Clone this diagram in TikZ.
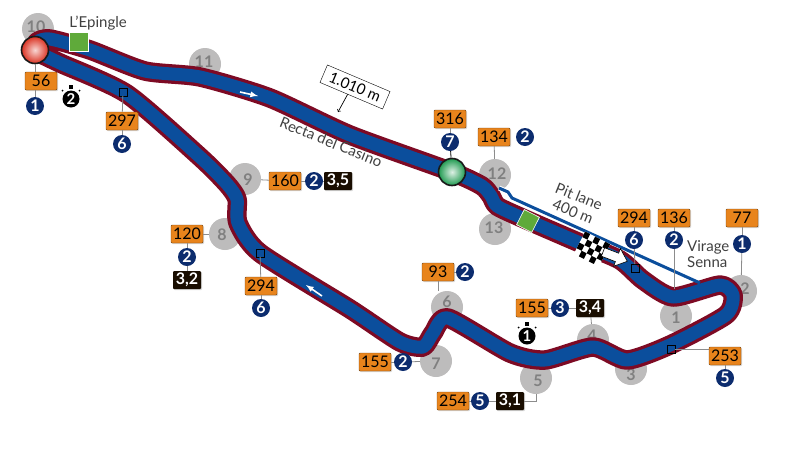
\documentclass[tikz,border=0pt]{standalone}
\usepackage{fontspec}
\usepackage[]{xcolor}
\setmainfont{Lato}
\usetikzlibrary{shadows}

\definecolor{trackred}{HTML}{7D0A24}
\definecolor{trackblue}{HTML}{0B4E9C}
\definecolor{gearblue}{HTML}{0C2C6E}
\definecolor{speedorange}{HTML}{E8841C}
\definecolor{turngray}{HTML}{BDBCBC}
\definecolor{kerbgreen}{HTML}{5FAA3A}
\definecolor{ballred}{HTML}{DA3222}
\definecolor{ballgreen}{HTML}{1F9A50}

\newcommand{\trackpath}{plot[smooth, tension=0.4] coordinates {(37,52) (60,63) (127,94) (200,157) (227,184) (237,199) (238,223) (260,253) (350,309) (400,342) (423,347) (433,333) (448,318) (510,353) (545,360) (593,347) (627,360) (670,345) (726,315) (733,295) (720,285) (673,297) (643,280) (620,260) (580,243) (520,217) (497,206) (491,196) (482,186) (452,172) (350,135) (270,98) (200,77) (145,71) (90,50) (50,39) (37,42) (37,52)}}

\begin{document}
\begin{tikzpicture}[
            x=1pt, y=-1pt,
            node distance=23pt,
            turn/.style={circle, fill=turngray, minimum size=32pt, inner sep=0pt},
            turnnum/.style={text=black!50, inner sep=0pt, font=\fontsize{16}{16}\bfseries\selectfont},
            speed/.style={rectangle, draw=black!50!speedorange, fill=speedorange, rounded corners=1pt, minimum width=32pt, minimum height=18pt, inner sep=0pt, font=\fontsize{16}{16}\selectfont, drop shadow={shadow xshift=1pt, shadow yshift=-1pt, opacity=.3}},
            gear/.style={circle, fill=gearblue, text=white, minimum size=18pt, inner sep=0pt, font=\fontsize{16}{16}\bfseries\selectfont},
            force/.style={rectangle, fill=black!90!orange, text=white, rounded corners=1pt, minimum width=28pt, minimum height=18pt, inner sep=0pt, font=\fontsize{16}{16}\bfseries\selectfont, drop shadow={shadow xshift=1pt, shadow yshift=-1pt, opacity=.3}},
            trap/.style={rectangle, draw=black, minimum size=7.5pt, inner sep=0pt},
            kerb/.style={rectangle, draw=white, line width=.6pt, fill=kerbgreen, inner sep=0pt},
            ball/.style={circle, draw=black!90, line width=1.6pt, minimum size=27pt, inner sep=0pt},
            watch/.style={circle, fill=black, text=white, minimum size=17pt, inner sep=0pt, font=\fontsize{15}{15}\bfseries\selectfont},
            word/.style={text=black!75, font=\fontsize{15}{16}\selectfont, inner sep=0pt},
            link/.style={draw=black!45, line width=.8pt},
            arrow/.style={-latex, white, line width=1.6pt}
        ]
            \useasboundingbox (0,0) rectangle (800,461);

            % turn numbers go under the track
            \foreach \num/\where/\nudge in {10/{38,29}/{-2,-2},11/{205,64}/{-1,-2},12/{495,175}/{2,-1},13/{495,229}/{-1,-1},9/{245,179}/{3,1},8/{225,234}/{-3,1},7/{436,361}/{0,3},6/{447,307}/{0,-5},5/{536,378}/{2,3},4/{593,340}/{-1,-4},3/{631,369}/{0,6},2/{741,291}/{4,-2},1/{676,316}/{0,2}}
                \node[turn, label={[turnnum, shift={(\nudge)}]center:\num}] (turn\num) at (\where) {};

            \draw[trackred, line width=19.5pt, line join=round] \trackpath;
            \draw[trackblue, line width=13pt, line join=round] \trackpath;

            % pit lane
            \coordinate (pitin) at (499,188);
            \coordinate (pitout) at (700,283);
            \draw[white, line width=5pt, line join=round] (pitin) -- (508,192) -- (512,198) -- (540,211);
            \draw[trackblue, line width=3pt, line join=round] (pitin) -- (508,192) -- (512,198) -- (pitout);

            \draw[arrow] (240,92) -- (258,96);
            \draw[arrow] (322,296) -- (306,285);

            \node[kerb, minimum size=19pt] (kerbA) at (79,42) {};
            \node[kerb, minimum size=17pt, rotate=-27] (kerbB) at (528,221) {};

            \node[ball, shade, inner color=ballred!20!white, outer color=ballred] (start) at (35,50) {};
            \node[ball, shade, inner color=ballgreen!15!white, outer color=ballgreen] (finish) at (452,172) {};

            % checkered flag and exit arrow
            \begin{scope}[shift={(592,249)}, rotate=-27]
                \fill[white] (-14,-12.5) rectangle (14,12.5);
                \foreach \i in {0,...,4}
                    \foreach \j in {0,...,3} {
                        \pgfmathtruncatemacro\cell{mod(\i+\j,2)}
                        \ifnum\cell=0 \fill[black] (-14+5.6*\i,-12.5+6.25*\j) rectangle +(5.6,6.25); \fi
                    }
            \end{scope}
            \begin{scope}[shift={(603,252)}, rotate=-21]
                \draw[fill=white, line width=.6pt, line join=miter] (0,-4.5) -- (15,-4.5) -- (15,-9.5) -- (26,0) -- (15,9.5) -- (15,4.5) -- (0,4.5) -- cycle;
            \end{scope}

            % speed traps
            \node[trap] (trapA) at (123,92) {};
            \node[trap] (trapB) at (260,253) {};
            \node[trap] (trapC) at (635,268) {};
            \node[trap] (trapD) at (671,349) {};

            % labels
            \node[speed] (sp10) at (41,81) {56};
            \node[gear] (gear10) at (35,106) {1};
            \node[speed] (spA) at (122,121) {297};
            \node[gear, below of=spA] (gearA) {6};
            \node[speed] (spS) at (450,119) {316};
            \node[gear, below of=spS] (gearS) {7};
            \node[speed] (sp12) at (494,137) {134};
            \node[gear, node distance=31pt, right of=sp12] (gear12) {2};
            \node[speed] (sp9) at (285,181) {160};
            \node[gear, node distance=29pt, right of=sp9] (gear9) {2};
            \node[force, node distance=24pt, right of=gear9] (force9) {3,5};
            \node[speed] (sp8) at (187,234) {120};
            \node[gear, below of=sp8] (gear8) {2};
            \node[force, node distance=23pt, below of=gear8] (force8) {3,2};
            \node[speed] (spB) at (261,286) {294};
            \node[gear, node distance=22pt, below of=spB] (gearB) {6};
            \node[speed] (spC) at (634,218) {294};
            \node[gear, node distance=22pt, below of=spC] (gearC) {6};
            \node[speed] (sp1) at (674,218) {136};
            \node[gear, node distance=22pt, below of=sp1] (gear1) {2};
            \node[speed] (sp2) at (742,218) {77};
            \node[gear, node distance=26pt, below of=sp2] (gear2) {1};
            \node[speed] (spD) at (725,356) {253};
            \node[gear, node distance=22pt, below of=spD] (gearD) {5};
            \node[speed] (sp6) at (438,272) {93};
            \node[gear, node distance=27pt, right of=sp6] (gear6) {2};
            \node[speed] (sp4) at (532,308) {155};
            \node[gear, node distance=28pt, right of=sp4] (gear4) {3};
            \node[force, node distance=30pt, right of=gear4] (force4) {3,4};
            \node[speed] (sp7) at (375,362) {155};
            \node[gear, node distance=28pt, right of=sp7] (gear7) {2};
            \node[speed] (sp5) at (453,401) {254};
            \node[gear, node distance=27pt, right of=sp5] (gear5) {5};
            \node[force, node distance=30pt, right of=gear5] (force5) {3,1};

            % connectors
            \draw[link] (start) -- (start |- sp10.north);
            \draw[link] (sp10.south -| gear10) -- (gear10);
            \draw[link] (trapA) -- (spA);
            \draw[link] (spA) -- (gearA);
            \draw[link] (spS) -- (gearS);
            \draw[black, line width=.8pt] (gearS) -- (finish);
            \draw[link] (sp12) -- (turn12);
            \draw[link] (turn9) -- (sp9);
            \draw[link] (sp9) -- (gear9);
            \draw[link] (gear9) -- (force9);
            \draw[link] (turn8) -- (sp8);
            \draw[link] (sp8) -- (gear8);
            \draw[link] (gear8) -- (force8);
            \draw[link] (trapB) -- (spB);
            \draw[link] (spB) -- (gearB);
            \draw[link] (spC) -- (gearC);
            \draw[link] (gearC) -- (trapC);
            \draw[link] (sp1) -- (gear1);
            \coordinate (apex1) at (gear1 |- 0,289);
            \draw[link] (gear1) -- (apex1);
            \draw[link] (sp2) -- (gear2);
            \draw[link] (gear2) -- (turn2);
            \draw[link] (trapD) -- (trapD -| spD.west);
            \draw[link] (spD) -- (gearD);
            \draw[link] (sp6.south) -- (sp6.south |- turn6.north);
            \draw[link] (sp6) -- (gear6);
            \draw[link] (sp4) -- (gear4);
            \draw[link] (gear4) -- (force4);
            \draw[link] (force4) -- (turn4);
            \draw[link] (sp7) -- (gear7);
            \draw[link] (gear7) -- (turn7);
            \draw[link] (sp5) -- (gear5);
            \draw[link] (gear5) -- (force5);
            \draw[link] (force5.east) -| (turn5);

            % stopwatches
            \node[watch] (watchA) at (71,99) {2};
            \node[watch] (watchB) at (527,336) {1};
            \foreach \w in {watchA,watchB} {
                \fill (\w.center) +(-2,-14) rectangle +(2,-10);
                \fill (\w.center) +(-8.5,-8.5) circle (1);
                \fill (\w.center) +(8.5,-8.5) circle (1);
            }

            % names on the map
            \node[word] (epingle) at (98,23) {L’Epingle};
            \node[word, rotate=-22] (recta) at (331,142) {Recta del Casino};
            \node[word, rotate=-22, align=center] (pitlane) at (576,204) {Pit lane\\400 m};
            \node[word, anchor=west, align=left] (senna) at (687,254) {Virage\\Senna};

            \node[rectangle, draw=black, fill=white, rotate=-23, minimum width=68pt, minimum height=19pt, inner sep=0pt, font=\fontsize{15}{15}\selectfont] (straight) at (355,87) {1.010 m};
            \coordinate (straightend) at (338,112);
            \draw[->, line width=.7pt] (straight.248) -- (straightend);
        \end{tikzpicture}
\end{document}
